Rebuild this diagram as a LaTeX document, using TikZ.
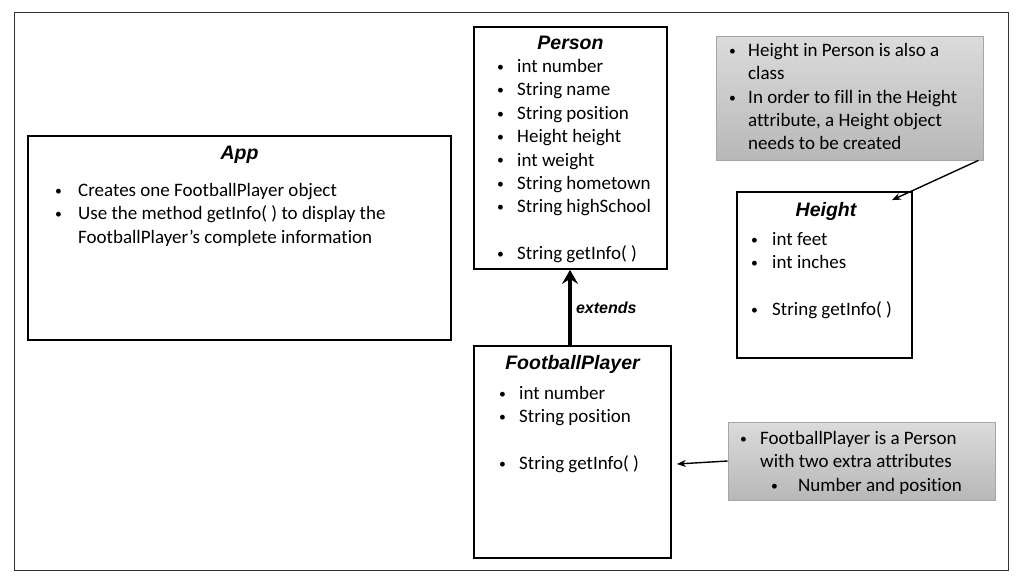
\documentclass[tikz,border=0pt]{standalone}
\usepackage{fontspec}
\setmainfont{Carlito}[Ligatures=CommonOff]
\newfontfamily\titlefont{Liberation Sans}
\usetikzlibrary{arrows.meta,positioning}

\newcommand{\itm}[1][20pt]{\makebox[#1][l]{\raisebox{0.06em}{\scalebox{0.72}{•}}}}

\begin{document}
\begin{tikzpicture}[x=1pt,y=-1pt,
  classbox/.style={draw, line width=1.8pt, inner sep=0pt},
  notebox/.style={draw=black!35, line width=0.8pt, top color=black!14, bottom color=black!28, inner sep=0pt},
  classtitle/.style={font=\titlefont\fontsize{19.5}{23}\selectfont\bfseries\itshape, anchor=base, inner sep=0pt},
  items/.style={font=\fontsize{19}{23.4}\selectfont, align=left, anchor=north west, inner sep=0pt, execute at begin node=\strut},
  pointer/.style={line width=1.4pt, -{Stealth[length=9pt,width=7pt]}}]
\useasboundingbox (0,0) rectangle (1024,582);
\draw[black!80, line width=1pt] (14,12) rectangle (1008,570);

% Boxes
\node[classbox, minimum width=423, minimum height=204] (app) at (239.5,238) {};
\node[classbox, minimum width=193, minimum height=242] (person) at (570.5,148) {};
\node[classbox, minimum width=197, minimum height=212] (player) at (572.5,452) {};
\node[classbox, minimum width=175, minimum height=166] (height) at (824.5,275) {};
\node[notebox, minimum width=267, minimum height=124] (note1) at (849.5,98) {};
\node[notebox, minimum width=267, minimum height=78] (note2) at (861.5,461) {};

% Titles
\node[classtitle] (apptitle) at (239.5,159) {App};
\node[classtitle] (persontitle) at (570.5,49) {Person};
\node[classtitle] (playertitle) at (572.5,369) {FootballPlayer};
\node[classtitle] (heighttitle) at (826,216) {Height};

% Contents
\node[items] (applist) at (55,183) {\itm[23pt]Creates one FootballPlayer object\\
  \itm[23pt]Use the method getInfo( ) to display the\\
  \hspace*{23pt}FootballPlayer’s complete information};
\node[items] (personlist) at (497,59) {\itm int number\\ \itm String name\\ \itm String position\\
  \itm Height height\\ \itm int weight\\ \itm String hometown\\ \itm String highSchool\\[23.4pt]
  \itm String getInfo( )};
\node[items] (playerlist) at (499,386) {\itm int number\\ \itm String position\\[23.4pt]
  \itm String getInfo( )};
\node[items] (heightlist) at (751,232) {\itm[21pt]int feet\\ \itm[21pt]int inches\\[23.4pt]
  \itm[21pt]String getInfo( )};
\node[items] (note1list) at (729,43) {\itm[19pt]Height in Person is also a\\
  \hspace*{19pt}class\\ \itm[19pt]In order to fill in the Height\\
  \hspace*{19pt}attribute, a Height object\\ \hspace*{19pt}needs to be created};
\node[items] (note2list) at (740,431) {\itm[20pt]FootballPlayer is a Person\\
  \hspace*{20pt}with two extra attributes\\ \hspace*{31pt}\itm[27pt]Number and position};

% Arrows
\draw[line width=3.5pt, -{Stealth[length=14pt,width=16pt,inset=5pt]}] (player.north -| 570,0) -- (person.south -| 570,0)
  node[midway, right=1pt, font=\titlefont\fontsize{16}{19}\selectfont\bfseries\itshape] (extlabel) {extends};
\draw[pointer] ([xshift=-5pt]note1.south east) -- ([xshift=-21pt,yshift=-9pt]height.north east);
\draw[pointer] (note2.west) -- ([xshift=5pt,yshift=-12pt]player.east);
\end{tikzpicture}
\end{document}
